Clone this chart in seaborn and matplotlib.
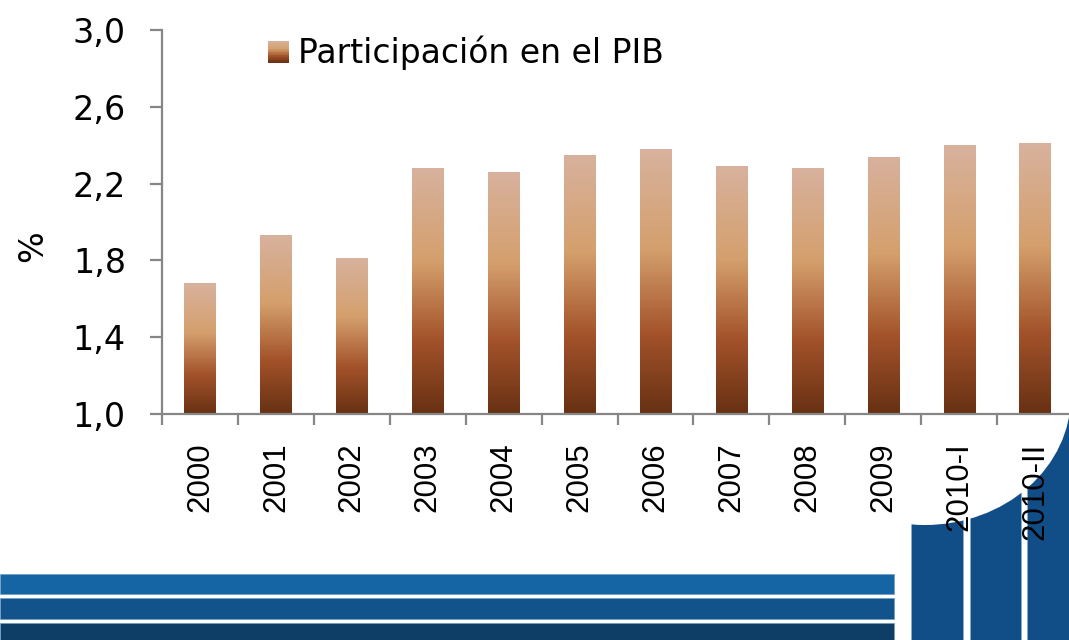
import numpy as np
import pandas as pd
import seaborn as sns
import matplotlib.pyplot as plt
from matplotlib.colors import LinearSegmentedColormap
from matplotlib.patches import Rectangle, Ellipse
from matplotlib.legend_handler import HandlerBase
from matplotlib.ticker import FixedLocator, FuncFormatter

# data
periodos = ['2000', '2001', '2002', '2003', '2004', '2005', '2006',
            '2007', '2008', '2009', '2010-I', '2010-II']
participacion = [1.68, 1.93, 1.81, 2.28, 2.26, 2.35, 2.38,
                 2.29, 2.28, 2.34, 2.40, 2.41]
y_ticks = [1.0, 1.4, 1.8, 2.2, 2.6, 3.0]
serie = 'Participación en el PIB'

df = pd.DataFrame({'periodo': periodos, 'valor': participacion})

# brown gradient (bottom -> top)
cmap = LinearSegmentedColormap.from_list('cafe', [
    (0.00, '#673113'),
    (0.30, '#A3522A'),
    (0.62, '#D49F6C'),
    (1.00, '#D8B29E'),
])

W, H = 1069, 640


def px(x, y):
    # pixel position -> figure fraction
    return x / W, 1 - y / H


sns.set_style('white')
plt.rcParams['text.color'] = 'black'
plt.rcParams['xtick.color'] = 'black'
plt.rcParams['ytick.color'] = 'black'
plt.rcParams['axes.labelcolor'] = 'black'

fig = plt.figure(figsize=(W / 100, H / 100), dpi=100)
ax = fig.add_axes([162 / W, 1 - 414 / H, (1073 - 162) / W, (414 - 30) / H])
ax.set_facecolor('none')

sns.barplot(data=df, x='periodo', y='valor', width=0.41, color=cmap(0.5),
            ax=ax, label=serie)

ymin, ymax = 1.0, 3.0
grad = np.linspace(1, 0, 256).reshape(-1, 1)
for p in ax.patches:
    x0, w, h = p.get_x(), p.get_width(), p.get_height()
    im = ax.imshow(grad, cmap=cmap, vmin=0, vmax=1, aspect='auto',
                   extent=[x0, x0 + w, ymin, h], zorder=2, interpolation='bilinear')
    im.set_clip_path(p)
    p.set_facecolor('none')
    p.set_edgecolor('none')

ax.set_xlim(-0.5, len(periodos) - 0.5)
ax.set_ylim(ymin, ymax)

# axes styling
for s in ['top', 'right']:
    ax.spines[s].set_visible(False)
for s in ['left', 'bottom']:
    ax.spines[s].set_color('#868686')
    ax.spines[s].set_linewidth(1.6)

ax.yaxis.set_major_locator(FixedLocator(y_ticks))
ax.yaxis.set_major_formatter(FuncFormatter(lambda v, _: f'{v:.1f}'.replace('.', ',')))
ax.tick_params(axis='y', direction='out', length=9, width=1.6, color='#868686',
               labelcolor='black', pad=17, labelsize=24, left=True)
for t in ax.get_yticklabels():
    t.set_fontfamily('DejaVu Sans')

ax.set_xticks(np.arange(len(periodos)))
ax.set_xticklabels(periodos, rotation=90, family='Liberation Sans', fontsize=22.5,
                   va='top', ha='center', color='black')
ax.tick_params(axis='x', which='major', length=0, pad=20.5)
ax.set_xticks(np.arange(len(periodos) + 1) - 0.5, minor=True)
ax.tick_params(axis='x', which='minor', direction='out', length=8, width=1.6,
               color='#868686', bottom=True)

ax.set_xlabel('')
ax.set_ylabel('%', fontsize=24, family='DejaVu Sans', labelpad=0, color='black')
ax.yaxis.set_label_coords((49 - 162) / 911, (414 - 246) / 384)


class GradientHandler(HandlerBase):
    def create_artists(self, legend, orig_handle, xdescent, ydescent,
                       width, height, fontsize, trans):
        n = 30
        arts = []
        for i in range(n):
            arts.append(Rectangle((-xdescent, -ydescent + height * i / n), width,
                                  height / n * 1.05, facecolor=cmap((i + 0.5) / n),
                                  edgecolor='none', transform=trans))
        return arts


handle = Rectangle((0, 0), 1, 1)
leg = ax.legend([handle], [serie], handler_map={Rectangle: GradientHandler()},
                loc='center left', bbox_to_anchor=px(268, 53),
                bbox_transform=fig.transFigure, frameon=False,
                prop={'family': 'DejaVu Sans', 'size': 23.8},
                handlelength=0.64, handleheight=0.64, handletextpad=0.28,
                borderaxespad=0, borderpad=0)
for t in leg.get_texts():
    t.set_color('black')

# decorative blue bands at the bottom
bands = [(574, 594, '#1565A5'), (598, 619, '#11538A'), (623, 642, '#0E3D66')]
for y0, y1, c in bands:
    x, y = px(0, y1)
    fig.patches.append(Rectangle((x, y), 894 / W, (y1 - y0) / H, facecolor=c,
                                 edgecolor='#6f9cc4', lw=0.5,
                                 transform=fig.transFigure, zorder=-3))

for x0, x1 in [(911, 963), (970, 1021), (1027, 1080)]:
    x, y = px(x0, 645)
    fig.patches.append(Rectangle((x, y), (x1 - x0) / W, (645 - 380) / H,
                                 facecolor='#114D87', edgecolor='#8fb0d0', lw=0.5,
                                 transform=fig.transFigure, zorder=-3))
cx, cy = px(925, 396)
fig.patches.append(Ellipse((cx, cy), 292 / W, 258 / H, facecolor='white',
                           edgecolor='none', transform=fig.transFigure, zorder=-2))

fig.savefig('out.png', dpi=100, facecolor='white')
